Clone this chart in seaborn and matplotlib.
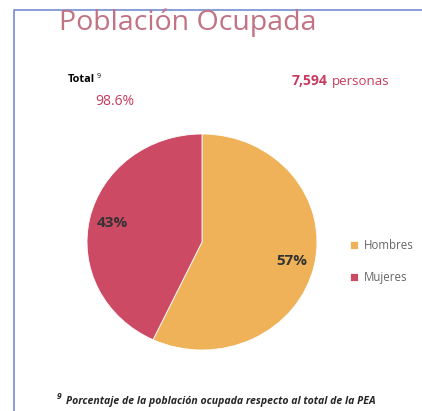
# Población ocupada: gráfico de torta por sexo
import matplotlib
matplotlib.use('Agg')
import matplotlib.pyplot as plt
import seaborn as sns

# == datos
categorias = ['Hombres', 'Mujeres']
porcentajes = [57, 43]
colores = ['#EFB259', '#CD4A65']
titulo = 'Población Ocupada'
total_pct = '98.6%'
personas = '7,594'
nota = 'Porcentaje de la población ocupada respecto al total de la PEA'

sns.set_style('white')
plt.rcParams['font.family'] = ['Open Sans', 'DejaVu Sans']

W, H = 422, 411
fig = plt.figure(figsize=(W / 100, H / 100), dpi=100)

# capa de fondo en coordenadas de pixel
bg = fig.add_axes([0, 0, 1, 1])
bg.set_xlim(0, W)
bg.set_ylim(H, 0)
bg.axis('off')

# marco azul (solo izquierda y arriba)
bg.plot([14, 14, W], [H, 10, 10], color='#7F95D6', lw=1.3)

bg.text(59, 23, titulo, fontsize=20.5, color='#C27383', va='center', ha='left')

bg.text(68, 80, 'Total', fontsize=7.8, fontweight='bold', color='black', va='center')
bg.text(97, 76, '9', fontsize=5, color='black', va='center')
bg.text(95, 101, total_pct, fontsize=10, color='#C83B5E', va='center')

bg.text(327, 81, personas, fontsize=10, fontweight='bold', color='#C83B5E', va='center', ha='right')
bg.text(332, 81, 'personas', fontsize=9.5, color='#C83B5E', va='center', ha='left')

bg.text(57, 396, '9', fontsize=6, fontstyle='italic', fontweight='bold', va='center')
bg.text(66, 401, nota, fontsize=7.6, fontstyle='italic', fontweight='bold', va='center')

# == torta
ax = fig.add_axes([87 / W, 1 - 350 / H, 230 / W, 216 / H])
wedges, _, autotexts = ax.pie(porcentajes, colors=colores, startangle=90, counterclock=False,
                              autopct='%1.0f%%', pctdistance=0.8,
                              wedgeprops={'edgecolor': 'white', 'linewidth': 0.6},
                              textprops={'fontsize': 11, 'fontweight': 'bold', 'color': '#333333'})
ax.set_aspect('auto')
ax.set_xlim(-1, 1)
ax.set_ylim(-1, 1)

# leyenda
ax_leg = bg.legend(wedges, categorias, loc='upper left', bbox_to_anchor=(340 / W, 1 - 229 / H),
                   frameon=False, handlelength=0.7, handleheight=0.7, handletextpad=0.5,
                   labelspacing=1.6, fontsize=8.3)
for t in ax_leg.get_texts():
    t.set_color('#666666')

plt.savefig('out.png', dpi=100)
